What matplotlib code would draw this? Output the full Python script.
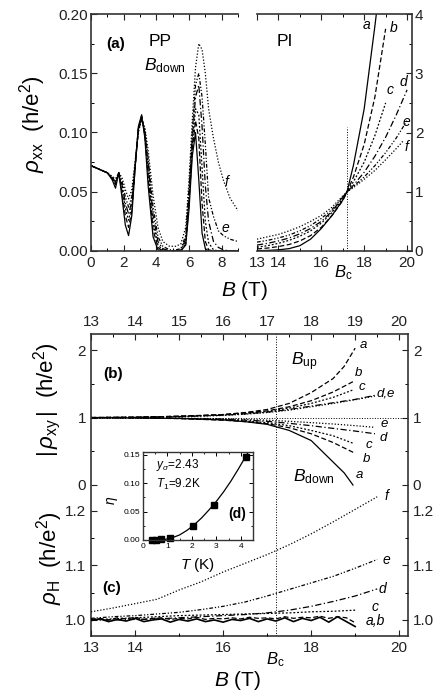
import matplotlib
matplotlib.use('Agg')
import matplotlib.pyplot as plt
from matplotlib.ticker import FixedLocator, MultipleLocator, FormatStrFormatter

plt.rcParams['font.family'] = ['Liberation Sans', 'DejaVu Sans']
plt.rcParams['mathtext.fontset'] = 'custom'
plt.rcParams['mathtext.rm'] = 'Liberation Sans'
plt.rcParams['mathtext.it'] = 'Liberation Sans:italic'
plt.rcParams['mathtext.bf'] = 'Liberation Sans:bold'
plt.rcParams['xtick.direction'] = 'in'
plt.rcParams['ytick.direction'] = 'in'
plt.rcParams['axes.linewidth'] = 1.2
plt.rcParams['axes.edgecolor'] = '#333333'

W, H = 438, 700
BC = 17.2

# (a) rho_xx at low field, plateau-plateau region
pp_B = [0, 0.5, 1.0, 1.3, 1.5, 1.7, 1.9, 2.1, 2.3, 2.5, 2.7, 2.9, 3.1, 3.3, 3.5, 3.8, 4.1,
        4.4, 4.8, 5.2, 5.5, 5.8, 6.0, 6.2, 6.4, 6.6, 6.8, 7.0, 7.2, 7.5, 7.8, 8.1, 8.5, 9.0]
pp_a = [.072, .069, .066, .060, .053, .066, .045, .022, .013, .030, .070, .105, .115, .095, .055, .012, .001,
        0, 0, 0, 0, .005, .035, .080, .100, .060, .015, .002, 0, 0, 0, 0, 0, 0]
pp_b = [.072, .069, .066, .061, .056, .066, .050, .030, .020, .034, .070, .104, .114, .097, .062, .018, .003,
        0, 0, 0, 0, .006, .040, .085, .110, .095, .040, .008, .001, 0, 0, 0, 0, 0]
pp_c = [.072, .069, .066, .061, .057, .066, .053, .036, .026, .038, .071, .103, .113, .099, .068, .024, .005,
        .001, 0, 0, .001, .008, .045, .090, .120, .115, .070, .025, .007, .001, 0, 0, 0, 0]
pp_d = [.072, .069, .066, .062, .058, .066, .056, .041, .031, .042, .072, .102, .112, .100, .073, .030, .008,
        .002, 0, 0, .001, .010, .048, .095, .130, .140, .105, .055, .025, .008, .003, .001, 0, 0]
pp_e = [.072, .069, .066, .062, .059, .066, .059, .046, .037, .046, .073, .101, .112, .102, .078, .037, .012,
        .004, .001, .001, .002, .013, .052, .100, .140, .150, .130, .090, .045, .029, .017, .013, .010, .008]
pp_f = [.072, .069, .066, .063, .061, .066, .062, .052, .044, .052, .076, .100, .111, .104, .085, .047, .020,
        .008, .004, .004, .006, .020, .060, .110, .155, .175, .170, .150, .120, .095, .075, .060, .045, .034]

# (a) rho_xx at high field, plateau-insulator transition
pi_B_a = [13, 13.5, 14, 14.5, 15, 15.5, 16, 16.5, 17, 17.2, 17.5, 18, 18.5, 18.6]
pi_B_bc = [13, 13.5, 14, 14.5, 15, 15.5, 16, 16.5, 17, 17.2, 17.5, 18, 18.5, 19.0]
pi_B_de = [13, 13.5, 14, 14.5, 15, 15.5, 16, 16.5, 17, 17.2, 17.5, 18, 18.5, 19, 19.5, 20]
pi_B_f = [13, 13.5, 14, 14.5, 15, 15.5, 16, 16.5, 17, 17.2, 17.5, 18, 18.5, 19, 19.5, 19.8]
pi_a = [.005, .01, .02, .04, .09, .2, .38, .6, .86, 1.0, 1.45, 2.4, 3.8, 4.1]
pi_b = [.035, .05, .075, .11, .17, .26, .4, .6, .85, 1.0, 1.25, 1.8, 2.6, 3.75]
pi_c = [.065, .09, .13, .18, .25, .34, .47, .65, .88, 1.0, 1.17, 1.5, 1.95, 2.5]
pi_d = [.10, .13, .17, .22, .29, .38, .5, .67, .9, 1.0, 1.11, 1.33, 1.6, 1.92, 2.3, 2.72]
pi_e = [.15, .18, .22, .27, .34, .43, .55, .7, .91, 1.0, 1.09, 1.25, 1.44, 1.66, 1.91, 2.2]
pi_f = [.2, .24, .28, .34, .41, .5, .6, .74, .93, 1.0, 1.07, 1.21, 1.36, 1.54, 1.73, 1.85]

# (b) |rho_xy| for the two sweep directions
up_B_a = [13, 14, 15, 15.5, 16, 16.5, 17, 17.5, 18, 18.5, 18.75, 19.0]
up_a = [1.0, 1.005, 1.02, 1.03, 1.045, 1.075, 1.12, 1.21, 1.37, 1.58, 1.76, 2.03]
up_B_b = [13, 14, 15, 16, 16.5, 17, 17.5, 18, 18.5, 19.0]
up_b = [1.0, 1.005, 1.02, 1.045, 1.07, 1.10, 1.16, 1.25, 1.38, 1.55]
up_B_c = [13, 14, 15, 16, 16.5, 17, 17.5, 18, 18.5, 18.95]
up_c = [1.0, 1.005, 1.018, 1.04, 1.06, 1.09, 1.14, 1.21, 1.30, 1.41]
up_B_de = [13, 14, 15, 16, 16.5, 17, 17.5, 18, 18.5, 19, 19.45]
up_d = [1.0, 1.004, 1.015, 1.035, 1.055, 1.08, 1.12, 1.17, 1.22, 1.27, 1.33]
up_e = [1.0, 1.004, 1.014, 1.032, 1.05, 1.075, 1.11, 1.16, 1.21, 1.265, 1.32]
down_B_a = [13, 14, 15, 16, 16.5, 17, 17.5, 18, 18.25, 18.5, 18.75, 18.95]
down_a = [1.0, 0.996, 0.987, 0.965, 0.94, 0.90, 0.81, 0.66, 0.50, 0.34, 0.18, 0.0]
down_B_b = [13, 14, 15, 16, 16.5, 17, 17.5, 18, 18.5, 19.0]
down_b = [1.0, 0.996, 0.985, 0.962, 0.94, 0.91, 0.85, 0.76, 0.63, 0.47]
down_B_c = [13, 14, 15, 16, 16.5, 17, 17.5, 18, 18.5, 18.95]
down_c = [1.0, 0.997, 0.988, 0.968, 0.95, 0.925, 0.88, 0.81, 0.73, 0.62]
down_B_de = [13, 14, 15, 16, 16.5, 17, 17.5, 18, 18.5, 19, 19.45]
down_d = [1.0, 0.997, 0.99, 0.975, 0.962, 0.945, 0.915, 0.88, 0.84, 0.80, 0.76]
down_e = [1.0, 0.998, 0.993, 0.982, 0.973, 0.962, 0.945, 0.925, 0.905, 0.88, 0.855]

# (c) rho_H
ph_B_ab = [13.0, 13.2, 13.4, 13.6, 13.8, 14.0, 14.2, 14.4, 14.6, 14.8, 15.0, 15.2, 15.4, 15.6, 15.8, 16.0,
           16.2, 16.4, 16.6, 16.8, 17.0, 17.2, 17.4, 17.6, 17.8, 18.0, 18.2, 18.4, 18.6, 18.8, 19.0]
ph_a = [0.999, 1.002, 0.997, 1.001, 0.998, 1.003, 0.997, 1.000, 1.002, 0.996, 1.001, 0.998, 1.002, 0.997, 1.000,
        0.996, 1.001, 0.999, 1.003, 0.997, 1.002, 0.998, 1.004, 0.997, 1.003, 0.999, 1.005, 0.996, 1.006, 0.997, 0.988]
ph_b = [1.001, 1.003, 1.000, 1.004, 1.002, 1.005, 1.001, 1.003, 1.004, 1.001, 1.003, 1.002, 1.005, 1.001, 1.003,
        1.002, 1.004, 1.002, 1.005, 1.003, 1.004, 1.002, 1.006, 1.003, 1.005, 1.004, 1.007, 1.003, 1.006, 1.004, 0.995]
ph_B_c = [13, 13.5, 14, 14.5, 15, 15.5, 16, 16.5, 17, 17.5, 18, 18.5, 19.0]
ph_c = [1.000, 1.002, 1.004, 1.006, 1.008, 1.009, 1.010, 1.011, 1.012, 1.013, 1.015, 1.016, 1.018]
ph_B_def = [13, 13.5, 14, 14.5, 15, 15.5, 16, 16.5, 17, 17.5, 18, 18.5, 19, 19.5]
ph_d = [1.000, 1.000, 1.001, 1.002, 1.004, 1.006, 1.008, 1.010, 1.013, 1.018, 1.025, 1.034, 1.044, 1.057]
ph_e = [1.003, 1.006, 1.008, 1.011, 1.014, 1.019, 1.025, 1.033, 1.044, 1.056, 1.068, 1.080, 1.095, 1.111]
ph_f = [1.015, 1.022, 1.030, 1.038, 1.055, 1.070, 1.088, 1.104, 1.120, 1.138, 1.158, 1.180, 1.203, 1.226]

# (d) inset: eta versus temperature
eta_T = [0.35, 0.55, 0.75, 1.1, 2.05, 2.9, 4.2]
eta = [0.0, 0.0, 0.001, 0.003, 0.025, 0.062, 0.147]
fit_T = [0.3, 0.6, 0.9, 1.2, 1.5, 1.8, 2.1, 2.4, 2.7, 3.0, 3.3, 3.6, 3.9, 4.2, 4.4]
fit_eta = [0.0, 0.0002, 0.001, 0.004, 0.009, 0.017, 0.027, 0.039, 0.053, 0.068, 0.085, 0.104, 0.125, 0.147, 0.162]

STYLE = {
    'a': '-',
    'b': (0, (4, 2)),
    'c': (0, (1.5, 1.5)),
    'd': (0, (5, 2, 1, 2)),
    'e': (0, (3, 1.5, 1, 1.5, 1, 1.5)),
    'f': (0, (1, 1.5)),
}
LW = 0.9

fig = plt.figure(figsize=(W / 100, H / 100), dpi=100)


def px_axes(x0, y0, x1, y1, **kw):
    return fig.add_axes([x0 / W, 1 - y1 / H, (x1 - x0) / W, (y1 - y0) / H], **kw)


def px_text(x, y, s, **kw):
    fig.text(x / W, 1 - y / H, s, **kw)


def style_ticks(ax):
    ax.tick_params(which='major', length=4, width=0.8, labelsize=11, colors='#222222')
    ax.tick_params(which='minor', length=2, width=0.7)


# ---- panel (a), left part ----
ax_pp = px_axes(91, 14, 238, 251)
for key, vals in zip('abcdef', [pp_a, pp_b, pp_c, pp_d, pp_e, pp_f]):
    ax_pp.plot(pp_B, vals, color='k', lw=LW, ls=STYLE[key])
ax_pp.set_xlim(0, 9)
ax_pp.set_ylim(0, 0.2)
ax_pp.spines['right'].set_visible(False)
ax_pp.xaxis.set_major_locator(MultipleLocator(2))
ax_pp.xaxis.set_minor_locator(MultipleLocator(1))
ax_pp.yaxis.set_major_locator(MultipleLocator(0.05))
ax_pp.yaxis.set_minor_locator(MultipleLocator(0.025))
ax_pp.yaxis.set_major_formatter(FormatStrFormatter('%.2f'))
ax_pp.tick_params(which='both', top=True, right=False)
ax_pp.tick_params(axis='y', pad=2)
style_ticks(ax_pp)
ax_pp.text(8.31, 0.058, 'f', style='italic', fontsize=10, ha='center', va='center')
ax_pp.text(8.25, 0.019, 'e', style='italic', fontsize=10, ha='center', va='center')

# ---- panel (a), right part ----
ax_pi = px_axes(257, 14, 412, 251)
ax_pi.plot(pi_B_a, pi_a, color='k', lw=LW, ls=STYLE['a'])
ax_pi.plot(pi_B_bc, pi_b, color='k', lw=LW, ls=STYLE['b'])
ax_pi.plot(pi_B_bc, pi_c, color='k', lw=LW, ls=STYLE['c'])
ax_pi.plot(pi_B_de, pi_d, color='k', lw=LW, ls=STYLE['d'])
ax_pi.plot(pi_B_de, pi_e, color='k', lw=LW, ls=STYLE['e'])
ax_pi.plot(pi_B_f, pi_f, color='k', lw=LW, ls=STYLE['f'])
ax_pi.vlines(BC, 0, 2.1, color='k', lw=0.7, ls=':')
ax_pi.set_xlim(13, 20.23)
ax_pi.set_ylim(0, 4)
ax_pi.spines['left'].set_visible(False)
ax_pi.xaxis.set_major_locator(FixedLocator([13, 14, 16, 18, 20]))
ax_pi.xaxis.set_minor_locator(FixedLocator([15, 17, 19]))
ax_pi.yaxis.set_major_locator(MultipleLocator(1))
ax_pi.yaxis.set_minor_locator(MultipleLocator(0.5))
ax_pi.tick_params(which='both', top=True, left=False, right=True, labelleft=False, labelright=True)
ax_pi.tick_params(axis='y', pad=2)
style_ticks(ax_pi)
for s, x, y in [('a', 18.13, 3.82), ('b', 19.36, 3.76), ('c', 19.21, 2.72),
                ('d', 19.81, 2.85), ('e', 19.96, 2.17), ('f', 19.96, 1.76)]:
    ax_pi.text(x, y, s, style='italic', fontsize=10, ha='center', va='center')

px_text(116, 44, '(a)', fontsize=11, fontweight='bold', ha='center', va='center')
px_text(160, 42, 'PP', fontsize=12.5, ha='center', va='center')
px_text(144, 66, r'$B_{\rm down}$', fontsize=12.5, ha='left', va='center')
px_text(285, 42, 'PI', fontsize=12.5, ha='center', va='center')
px_text(33, 124, r'$\rho_{\rm xx}$  (h/e$^2$)', fontsize=16, rotation=90, ha='center', va='center')
px_text(245, 290, r'$B$ (T)', fontsize=15, ha='center', va='center')
px_text(343, 273, r'$B_{\rm c}$', fontsize=12, ha='center', va='center')

# ---- panels (b) and (c) share one frame ----
axb = px_axes(91, 334, 408, 636)
axc = px_axes(91, 334, 408, 636, facecolor='none', label='rhoH')

axb.axhline(1.0, color='k', lw=0.7, ls=':')
axb.axvline(BC, color='k', lw=0.7, ls=':')
axb.plot(up_B_a, up_a, color='k', lw=LW, ls=STYLE['b'])
axb.plot(up_B_b, up_b, color='k', lw=LW, ls=STYLE['b'])
axb.plot(up_B_c, up_c, color='k', lw=LW, ls=STYLE['c'])
axb.plot(up_B_de, up_d, color='k', lw=LW, ls=STYLE['d'])
axb.plot(up_B_de, up_e, color='k', lw=LW, ls=STYLE['f'])
axb.plot(down_B_a, down_a, color='k', lw=LW, ls=STYLE['a'])
axb.plot(down_B_b, down_b, color='k', lw=LW, ls=STYLE['b'])
axb.plot(down_B_c, down_c, color='k', lw=LW, ls=STYLE['c'])
axb.plot(down_B_de, down_d, color='k', lw=LW, ls=STYLE['d'])
axb.plot(down_B_de, down_e, color='k', lw=LW, ls=STYLE['f'])
axb.set_xlim(13, 20.2)
axb.set_ylim(-2.24, 2.24)
axb.xaxis.set_major_locator(MultipleLocator(1))
axb.xaxis.set_minor_locator(MultipleLocator(0.5))
axb.yaxis.set_major_locator(FixedLocator([0, 1, 2]))
axb.yaxis.set_minor_locator(FixedLocator([0.5, 1.5]))
axb.tick_params(which='both', top=True, bottom=False, labeltop=True, labelbottom=False,
                left=True, right=True, labelleft=True, labelright=True)
style_ticks(axb)
for s, x, y in [('a', 19.18, 2.07), ('b', 19.07, 1.66), ('c', 19.16, 1.45), ('d,e', 19.7, 1.36),
                ('e', 19.67, 0.90), ('d', 19.64, 0.69), ('c', 19.3, 0.60), ('b', 19.25, 0.39),
                ('a', 19.1, 0.15)]:
    axb.text(x, y, s, style='italic', fontsize=9.5, ha='center', va='center')
axb.text(17.55, 1.83, r'$B_{\rm up}$', fontsize=12.5, ha='left', va='center')
axb.text(17.59, 0.12, r'$B_{\rm down}$', fontsize=12.5, ha='left', va='center')

axc.plot(ph_B_ab, ph_b, color='k', lw=LW, ls=STYLE['b'])
axc.plot(ph_B_ab, ph_a, color='k', lw=1.2, ls=STYLE['a'])
axc.plot(ph_B_c, ph_c, color='k', lw=LW, ls=STYLE['c'])
axc.plot(ph_B_def, ph_d, color='k', lw=LW, ls=STYLE['d'])
axc.plot(ph_B_def, ph_e, color='k', lw=LW, ls=STYLE['e'])
axc.plot(ph_B_def, ph_f, color='k', lw=LW, ls=STYLE['f'])
axc.set_xlim(13, 20.2)
axc.set_ylim(0.9706, 1.5248)
for sp in axc.spines.values():
    sp.set_visible(False)
axc.xaxis.set_major_locator(FixedLocator([13, 14, 16, 18, 20]))
axc.xaxis.set_minor_locator(FixedLocator([15, 17, 19]))
axc.yaxis.set_major_locator(FixedLocator([1.0, 1.1, 1.2]))
axc.yaxis.set_minor_locator(FixedLocator([1.05, 1.15]))
axc.yaxis.set_major_formatter(FormatStrFormatter('%.1f'))
axc.tick_params(which='both', top=False, bottom=True, labeltop=False, labelbottom=True,
                left=True, right=True, labelleft=True, labelright=True)
style_ticks(axc)
for s, x, y in [('f', 19.7, 1.228), ('e', 19.7, 1.11), ('d', 19.63, 1.057), ('c', 19.45, 1.024)]:
    axc.text(x, y, s, style='italic', fontsize=10, ha='center', va='center')
axc.text(19.25, 0.999, 'a,b', style='italic', fontsize=10, ha='left', va='center')

px_text(113, 374, '(b)', fontsize=11, fontweight='bold', ha='center', va='center')
px_text(112, 588, '(c)', fontsize=11, fontweight='bold', ha='center', va='center')
px_text(47, 400, r'$|\,\rho_{\rm xy}\,|$  (h/e$^2$)', fontsize=16, rotation=90, ha='center', va='center')
px_text(50, 558, r'$\rho_{\rm H}$  (h/e$^2$)', fontsize=16, rotation=90, ha='center', va='center')
px_text(238, 681, r'$B$ (T)', fontsize=15, ha='center', va='center')
px_text(275, 660, r'$B_{\rm c}$', fontsize=12, ha='center', va='center')

# ---- inset (d) ----
ax_in = px_axes(143, 452, 253, 540)
ax_in.plot(fit_T, fit_eta, color='k', lw=0.9)
ax_in.plot(eta_T, eta, 's', color='k', ms=4, clip_on=False)
ax_in.set_xlim(0, 4.5)
ax_in.set_ylim(0, 0.155)
ax_in.xaxis.set_major_locator(MultipleLocator(1))
ax_in.xaxis.set_minor_locator(MultipleLocator(0.5))
ax_in.yaxis.set_major_locator(MultipleLocator(0.05))
ax_in.yaxis.set_minor_locator(MultipleLocator(0.025))
ax_in.yaxis.set_major_formatter(FormatStrFormatter('%.2f'))
ax_in.tick_params(which='both', top=True, right=True)
ax_in.tick_params(which='major', length=3, width=0.7, labelsize=6, pad=2)
ax_in.tick_params(which='minor', length=1.5, width=0.6)
for sp in ax_in.spines.values():
    sp.set_linewidth(1.0)
ax_in.text(0.55, 0.132, r'$y_\sigma$=2.43', fontsize=8.5, ha='left', va='center')
ax_in.text(0.55, 0.098, r'$T_1$=9.2K', fontsize=8.5, ha='left', va='center')
ax_in.text(3.85, 0.045, '(d)', fontsize=10, fontweight='bold', ha='center', va='center')
px_text(112, 500, r'$\eta$', fontsize=10, rotation=90, ha='center', va='center')
px_text(197, 565, r'$T$ (K)', fontsize=11, ha='center', va='center')

fig.savefig('out.png', dpi=100)
